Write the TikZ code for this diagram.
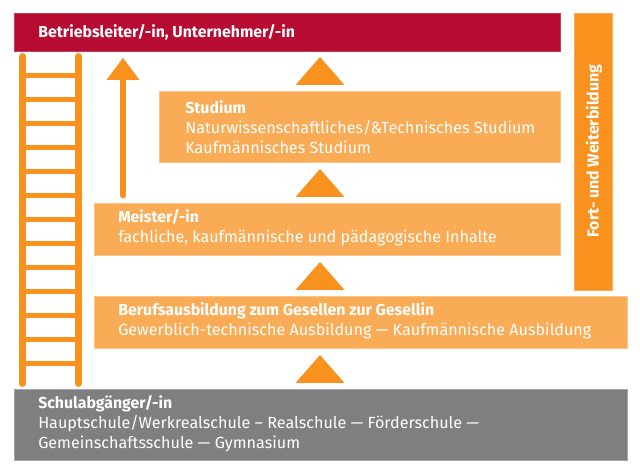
\documentclass[tikz,border=0pt]{standalone}
\usepackage{fontspec}
\setmainfont{Fira Sans}
\usetikzlibrary{calc,positioning}
\definecolor{bred}{HTML}{B80B32}
\definecolor{borange}{HTML}{F9911E}
\definecolor{blight}{HTML}{F9AC55}
\definecolor{bgrey}{HTML}{7F7F7F}
\tikzstyle{every node}+=[inner sep=0mm,text=white,font=\fontsize{12.1}{15}\selectfont]
\tikzstyle{box}=[rectangle,anchor=north west,line width=0.4pt]
\tikzstyle{lightbox}=[box,fill=blight,draw=blight!70!white]
\tikzstyle{lbl}=[anchor=west,align=left]
\tikzstyle{rail}=[draw=borange,line width=5.2pt,line cap=round]
\tikzstyle{rung}=[draw=borange,line width=4.2pt]
\tikzstyle{tip}=[fill=borange]
\newcommand{\up}[3]{\fill[tip] (#1-#3,#2) -- (#1+#3,#2) -- (#1,#2-28) -- cycle;}
\newcommand{\hd}[1]{{\fontsize{11.9}{15}\selectfont\bfseries #1}}

\begin{document}
\begin{tikzpicture}[x=0.75pt,y=-0.75pt]
\useasboundingbox (0,0) rectangle (640,474);

\node[box,fill=bred,draw=bred!80!white,minimum width=409.5pt,minimum height=28.5pt] (chef) at (14,13) {};
\node[lightbox,minimum width=300.75pt,minimum height=53.25pt] (studium) at (159,91) {};
\node[lightbox,minimum width=349.5pt,minimum height=39pt] (meister) at (94,203) {};
\node[lightbox,minimum width=399.75pt,minimum height=39pt] (beruf) at (94,296) {};
\node[box,fill=bgrey,draw=bgrey!70!white,minimum width=459.75pt,minimum height=53.25pt] (schule) at (14,389) {};
\node[box,fill=borange,draw=blight,minimum width=28.5pt,minimum height=207.75pt] (fort) at (574,13) {};

\node[lbl] (cheftext) at (38,32) {\hd{Betriebsleiter/-in, Unternehmer/-in}};
\node[lbl] (studiumtext) at (185,127) {\hd{Studium}\\Naturwissenschaftliches/\&Technisches Studium\\Kaufmännisches Studium};
\node[lbl] (meistertext) at (118,228) {\hd{Meister/-in}\\fachliche, kaufmännische und pädagogische Inhalte};
\node[lbl] (berufstext) at (118,321) {\hd{Berufsausbildung zum Gesellen zur Gesellin}\\Gewerblich-technische Ausbildung — Kaufmännische Ausbildung};
\node[lbl] (schultext) at (38,424) {\hd{Schulabgänger/-in}\\Hauptschule/Werkrealschule – Realschule — Förderschule —\\Gemeinschaftsschule — Gymnasium};
\node[rotate=90] (forttext) at (594,151) {\hd{Fort- und Weiterbildung}};

% triangles
\up{320}{85}{24.5}
\up{320}{197}{24.5}
\up{320}{290}{24.5}
\up{320}{383}{24.5}

% arrow
\coordinate (pfeil) at (123,80);
\coordinate (pfeilfuss) at (123,195);
\draw[rail] (pfeilfuss) -- (pfeil);
\fill[tip] (106.5,80) -- (139.5,80) -- (123,58) -- cycle;

% ladder
\coordinate (la) at (22.7,56.5);
\coordinate (lb) at (22.7,383.5);
\coordinate (ra) at (78.5,56.5);
\coordinate (rb) at (78.5,383.5);
\draw[rail] (la) -- (lb);
\draw[rail] (ra) -- (rb);
\foreach \y in {75.5,99.5,...,363.5}
  \draw[rung] (22.7,\y) -- (78.5,\y);
\end{tikzpicture}
\end{document}
